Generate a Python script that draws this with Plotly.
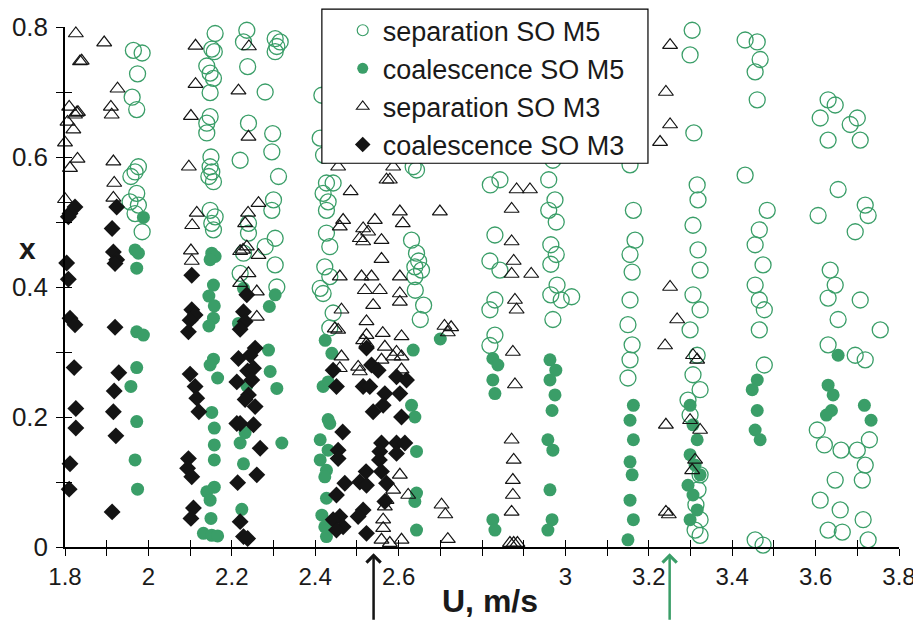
import plotly.graph_objects as go

GREEN = "#3a9e68"
BLACK = "#141414"

# ---------------- data (U in m/s, x dimensionless) ----------------
sep_m5_u = [1.964, 1.985, 1.974, 1.961, 1.972, 1.976, 1.968, 1.958, 1.972, 1.956, 1.976, 1.968, 1.985,
            2.160, 2.152, 2.158, 2.140, 2.148, 2.156, 2.148, 2.148, 2.140, 2.140, 2.150, 2.148, 2.152, 2.145,
            2.156, 2.148, 2.160, 2.152, 2.156, 2.220, 2.236, 2.228, 2.238, 2.240, 2.240, 2.228, 2.220, 2.240,
            2.304, 2.316, 2.308, 2.304, 2.280, 2.298, 2.296, 2.312, 2.300, 2.296, 2.280, 2.304, 2.304, 2.308,
            2.416, 2.412, 2.420, 2.427, 2.443, 2.419, 2.431, 2.427, 2.427, 2.435, 2.423, 2.435, 2.412, 2.419,
            2.443, 2.435,
            2.635, 2.643, 2.631, 2.643, 2.639, 2.639, 2.648, 2.655, 2.640, 2.660, 2.652,
            2.820, 2.843, 2.831, 2.819, 2.843, 2.831, 2.819, 2.831, 2.819,
            2.970, 2.960, 2.975, 2.960, 2.978, 2.965, 2.978, 2.965, 2.980, 2.965, 2.990, 2.970, 3.015,
            3.155, 3.163, 3.167, 3.155, 3.160, 3.155, 3.150, 3.160, 3.155, 3.150,
            3.304, 3.299, 3.308, 3.316, 3.318, 3.306, 3.318, 3.323, 3.306, 3.323, 3.299, 3.316, 3.306, 3.323,
            3.294, 3.299, 3.323, 3.318, 3.313, 3.323, 3.311, 3.323,
            3.431, 3.460, 3.467, 3.455, 3.460, 3.431, 3.484, 3.465, 3.455, 3.474, 3.455, 3.465, 3.477, 3.465,
            3.477, 3.455, 3.474,
            3.630, 3.647, 3.611, 3.683, 3.700, 3.630, 3.707, 3.654, 3.719, 3.726, 3.606, 3.695, 3.635, 3.647,
            3.630, 3.707, 3.654, 3.630, 3.695, 3.719, 3.755, 3.604, 3.621, 3.661, 3.700, 3.729, 3.719, 3.712,
            3.647, 3.611, 3.659, 3.630, 3.664, 3.714, 3.726]
sep_m5_x = [0.764, 0.760, 0.728, 0.692, 0.673, 0.585, 0.577, 0.570, 0.544, 0.531, 0.526, 0.513, 0.485,
            0.790, 0.766, 0.762, 0.740, 0.729, 0.721, 0.699, 0.662, 0.652, 0.637, 0.600, 0.585, 0.577, 0.570,
            0.562, 0.518, 0.508, 0.498, 0.488, 0.595, 0.795, 0.777, 0.739, 0.652, 0.483, 0.452, 0.421, 0.498,
            0.782, 0.777, 0.770, 0.762, 0.700, 0.636, 0.608, 0.570, 0.534, 0.518, 0.462, 0.475, 0.434, 0.400,
            0.695, 0.629, 0.603, 0.560, 0.560, 0.544, 0.531, 0.518, 0.483, 0.462, 0.431, 0.416, 0.398, 0.390,
            0.360, 0.337,
            0.585, 0.580, 0.472, 0.452, 0.431, 0.416, 0.440, 0.426, 0.395, 0.372, 0.350,
            0.557, 0.565, 0.480, 0.440, 0.426, 0.380, 0.365, 0.326, 0.310,
            0.595, 0.565, 0.534, 0.518, 0.500, 0.465, 0.450, 0.435, 0.403, 0.388, 0.380, 0.350, 0.385,
            0.588, 0.518, 0.472, 0.450, 0.423, 0.380, 0.342, 0.311, 0.288, 0.260,
            0.795, 0.757, 0.637, 0.557, 0.534, 0.495, 0.457, 0.426, 0.388, 0.365, 0.334, 0.295, 0.265, 0.242,
            0.226, 0.203, 0.111, 0.088, 0.065, 0.042, 0.026, 0.018,
            0.780, 0.777, 0.750, 0.731, 0.688, 0.572, 0.518, 0.488, 0.465, 0.434, 0.403, 0.380, 0.365, 0.334,
            0.280, 0.011, 0.003,
            0.688, 0.680, 0.660, 0.650, 0.660, 0.626, 0.626, 0.550, 0.526, 0.510, 0.510, 0.485, 0.426, 0.403,
            0.383, 0.380, 0.350, 0.311, 0.295, 0.288, 0.334, 0.180, 0.157, 0.149, 0.149, 0.165, 0.126, 0.103,
            0.103, 0.072, 0.057, 0.026, 0.023, 0.042, 0.011]

coal_m5_u = [1.988, 1.968, 1.976, 1.972, 1.972, 1.988, 1.972, 1.958, 1.972, 1.968, 1.974,
             2.152, 2.160, 2.148, 2.156, 2.145, 2.158, 2.156, 2.145, 2.156, 2.148, 2.166, 2.152, 2.158, 2.158,
             2.158, 2.158, 2.140, 2.148, 2.150, 2.132, 2.152, 2.166,
             2.232, 2.220, 2.228, 2.224, 2.236, 2.228, 2.304, 2.290, 2.216, 2.288, 2.292, 2.308, 2.320,
             2.424, 2.440, 2.419, 2.431, 2.431, 2.435, 2.412, 2.431, 2.412, 2.427, 2.423, 2.427, 2.416, 2.423,
             2.427,
             2.635, 2.700, 2.631, 2.639, 2.643, 2.643, 2.639, 2.643,
             2.826, 2.838, 2.826, 2.831, 2.826, 2.831,
             2.963, 2.977, 2.963, 2.975, 2.968, 2.958, 2.970, 2.963, 2.968, 2.958,
             3.163, 3.155, 3.163, 3.155, 3.160, 3.155, 3.163, 3.150,
             3.299, 3.306, 3.316, 3.299, 3.311, 3.323, 3.294, 3.306, 3.316, 3.299,
             3.460, 3.448, 3.460, 3.455, 3.467,
             3.654, 3.630, 3.642, 3.638, 3.626, 3.717, 3.733]
coal_m5_x = [0.507, 0.457, 0.452, 0.429, 0.331, 0.326, 0.276, 0.247, 0.193, 0.134, 0.089,
             0.452, 0.447, 0.442, 0.403, 0.386, 0.371, 0.352, 0.340, 0.289, 0.280, 0.260, 0.207, 0.183, 0.157,
             0.134, 0.092, 0.085, 0.072, 0.044, 0.021, 0.018, 0.017,
             0.176, 0.160, 0.128, 0.058, 0.248, 0.398, 0.388, 0.370, 0.344, 0.303, 0.270, 0.244, 0.160,
             0.318, 0.298, 0.247, 0.254, 0.196, 0.190, 0.165, 0.149, 0.134, 0.118, 0.108, 0.075, 0.049, 0.031,
             0.016,
             0.303, 0.320, 0.218, 0.200, 0.147, 0.083, 0.070, 0.026,
             0.290, 0.280, 0.257, 0.236, 0.042, 0.026,
             0.288, 0.272, 0.257, 0.234, 0.210, 0.165, 0.149, 0.088, 0.042, 0.026,
             0.218, 0.195, 0.165, 0.131, 0.111, 0.072, 0.042, 0.011,
             0.218, 0.188, 0.165, 0.142, 0.126, 0.111, 0.095, 0.080, 0.057, 0.042,
             0.257, 0.242, 0.210, 0.180, 0.165,
             0.295, 0.249, 0.234, 0.210, 0.203, 0.218, 0.195]

sep_m3_u = [1.826, 1.836, 1.840, 1.810, 1.828, 1.831, 1.824, 1.806, 1.820, 1.800, 1.830, 1.812, 1.800,
            1.894, 1.926, 1.910, 1.912, 1.916, 1.918, 1.916,
            2.113, 2.113, 2.102, 2.097, 2.116, 2.105, 2.102, 2.104,
            2.216, 2.241, 2.240, 2.239, 2.232, 2.227, 2.236, 2.220, 2.264, 2.220, 2.264, 2.240, 2.260, 2.260,
            2.455, 2.587, 2.571, 2.579, 2.485, 2.467, 2.459, 2.603, 2.610, 2.543, 2.515, 2.527, 2.507, 2.515,
            2.559, 2.559, 2.459, 2.511, 2.535, 2.603, 2.519, 2.555, 2.603, 2.603, 2.539, 2.463, 2.523, 2.447,
            2.455, 2.523, 2.562, 2.607, 2.567, 2.523, 2.515, 2.587, 2.607, 2.595, 2.559, 2.463, 2.459, 2.503,
            2.507, 2.607, 2.603, 2.587, 2.623, 2.571, 2.567, 2.563, 2.563, 2.559, 2.579, 2.607,
            2.699, 2.710, 2.718, 2.726, 2.703, 2.712, 2.718,
            2.883, 2.871, 2.871, 2.876, 2.871, 2.879, 2.883, 2.874, 2.879, 2.871, 2.876, 2.874, 2.874, 2.871,
            2.867, 2.876, 2.885, 2.915, 2.918,
            3.251, 3.241, 3.251, 3.227, 3.251, 3.268, 3.239, 3.241, 3.241, 3.248,
            3.306, 3.316, 3.299, 3.323, 3.311, 3.304]
sep_m3_x = [0.790, 0.747, 0.748, 0.677, 0.668, 0.669, 0.665, 0.654, 0.642, 0.622, 0.597, 0.583, 0.535,
            0.776, 0.705, 0.677, 0.665, 0.593, 0.560, 0.537,
            0.771, 0.712, 0.663, 0.585, 0.514, 0.495, 0.456, 0.440,
            0.702, 0.770, 0.631, 0.514, 0.498, 0.457, 0.462, 0.406, 0.529, 0.455, 0.449, 0.421, 0.393, 0.354,
            0.585, 0.585, 0.565, 0.565, 0.547, 0.503, 0.493, 0.516, 0.498, 0.503, 0.490, 0.485, 0.475, 0.470,
            0.472, 0.443, 0.416, 0.416, 0.416, 0.416, 0.395, 0.395, 0.390, 0.377, 0.372, 0.365, 0.347, 0.336,
            0.334, 0.326, 0.329, 0.324, 0.308, 0.313, 0.318, 0.293, 0.293, 0.300, 0.288, 0.293, 0.275, 0.277,
            0.270, 0.273, 0.111, 0.088, 0.080, 0.072, 0.062, 0.042, 0.029, 0.011, 0.006, 0.011,
            0.516, 0.340, 0.330, 0.338, 0.065, 0.050, 0.012,
            0.550, 0.520, 0.470, 0.440, 0.420, 0.380, 0.365, 0.300, 0.250, 0.165, 0.134, 0.103, 0.080, 0.054,
            0.006, 0.006, 0.006, 0.550, 0.420,
            0.772, 0.700, 0.650, 0.623, 0.400, 0.350, 0.310, 0.188, 0.054, 0.050,
            0.295, 0.288, 0.195, 0.180, 0.134, 0.118]

coal_m3_u = [1.824, 1.812, 1.808, 1.804, 1.808, 1.812, 1.824, 1.822, 1.826, 1.826, 1.812, 1.810,
             1.924, 1.913, 1.916, 1.924, 1.920, 1.920, 1.929, 1.918, 1.916, 1.922, 1.913,
             2.104, 2.104, 2.112, 2.100, 2.096, 2.100, 2.112, 2.116, 2.121, 2.096, 2.094, 2.104, 2.108, 2.102,
             2.236, 2.228, 2.232, 2.220, 2.216, 2.238, 2.212, 2.240, 2.232, 2.212, 2.220, 2.214, 2.220, 2.228,
             2.238, 2.256, 2.244, 2.252, 2.248, 2.256, 2.252, 2.268, 2.260,
             2.443, 2.451, 2.523, 2.535, 2.551, 2.515, 2.531, 2.567, 2.563, 2.539, 2.595, 2.619, 2.603, 2.607,
             2.466, 2.455, 2.455, 2.559, 2.555, 2.554, 2.595, 2.615, 2.595, 2.522, 2.507, 2.523, 2.471, 2.451,
             2.559, 2.571, 2.515, 2.503, 2.459, 2.467, 2.443, 2.451, 2.523, 2.567]
coal_m3_x = [0.523, 0.513, 0.508, 0.437, 0.412, 0.352, 0.342, 0.276, 0.213, 0.183, 0.128, 0.089,
             0.523, 0.490, 0.454, 0.442, 0.436, 0.338, 0.268, 0.240, 0.208, 0.171, 0.054,
             0.418, 0.365, 0.357, 0.349, 0.331, 0.266, 0.247, 0.229, 0.208, 0.136, 0.121, 0.108, 0.060, 0.044,
             0.388, 0.362, 0.347, 0.335, 0.290, 0.271, 0.254, 0.234, 0.227, 0.190, 0.190, 0.099, 0.039, 0.016,
             0.013, 0.306, 0.295, 0.275, 0.257, 0.216, 0.188, 0.152, 0.111,
             0.272, 0.247, 0.306, 0.280, 0.272, 0.247, 0.247, 0.236, 0.218, 0.208, 0.262, 0.257, 0.236, 0.200,
             0.177, 0.149, 0.136, 0.160, 0.147, 0.134, 0.160, 0.160, 0.144, 0.116, 0.100, 0.095, 0.098, 0.080,
             0.116, 0.098, 0.057, 0.047, 0.047, 0.031, 0.042, 0.026, 0.021, 0.070]

series_names = ["separation SO M5", "coalescence SO M5", "separation SO M3", "coalescence SO M3"]
x_tick_vals = [1.8, 1.9, 2.0, 2.1, 2.2, 2.3, 2.4, 2.5, 2.6, 2.7, 2.8, 2.9, 3.0, 3.1, 3.2, 3.3, 3.4, 3.5, 3.6, 3.7, 3.8]
x_tick_text = ["1.8", "", "2", "", "2.2", "", "2.4", "", "2.6", "", "", "", "3", "", "3.2", "", "3.4", "", "3.6", "", "3.8"]
y_tick_vals = [0, 0.1, 0.2, 0.3, 0.4, 0.5, 0.6, 0.7, 0.8]
y_tick_text = ["0", "", "0.2", "", "0.4", "", "0.6", "", "0.8"]
arrow_u = [2.54, 3.25]

# ---------------- figure ----------------
styles = [
    dict(symbol="circle-open", size=16, color=GREEN, line=dict(width=1.3, color=GREEN)),
    dict(symbol="circle", size=13, color=GREEN, line=dict(width=0)),
    dict(symbol="triangle-up-open", size=13, color=BLACK, line=dict(width=1.2, color=BLACK)),
    dict(symbol="diamond", size=13, color=BLACK, line=dict(width=0)),
]
legend_styles = [
    dict(symbol="circle-open", size=11, color=GREEN, line=dict(width=1.2, color=GREEN)),
    dict(symbol="circle", size=11, color=GREEN),
    dict(symbol="triangle-up-open", size=11, color=BLACK, line=dict(width=1.1, color=BLACK)),
    dict(symbol="diamond", size=12, color=BLACK),
]
data_u = [sep_m5_u, coal_m5_u, sep_m3_u, coal_m3_u]
data_x = [sep_m5_x, coal_m5_x, sep_m3_x, coal_m3_x]

fig = go.Figure()
for name, u, x, st in zip(series_names, data_u, data_x, styles):
    fig.add_trace(go.Scatter(x=u, y=x, mode="markers", marker=st, name=name,
                             showlegend=False, cliponaxis=False))
for name, st in zip(series_names, legend_styles):
    fig.add_trace(go.Scatter(x=[None], y=[None], mode="markers", marker=st, name=name))

# invisible trace so the inner half of the crossing ticks is drawn
fig.add_trace(go.Scatter(x=[1.8], y=[0], xaxis="x2", yaxis="y2", mode="markers",
                         marker=dict(opacity=0), showlegend=False, hoverinfo="skip"))

axis_common = dict(showgrid=False, zeroline=False, showline=True, linecolor="black", linewidth=1.5,
                   ticks="outside", ticklen=7, tickwidth=1.3, tickcolor="black")

# the page body adds an 8 px offset, so the figure is 8 px smaller than the window
fig.update_layout(
    width=913, height=629,
    margin=dict(l=57, r=22, t=19, b=90, autoexpand=False),
    paper_bgcolor="white", plot_bgcolor="white",
    font=dict(family="Liberation Sans, Arial, sans-serif", color="#1a1a1a"),
    xaxis=dict(range=[1.8, 3.8], tickvals=x_tick_vals, ticktext=x_tick_text,
               tickfont=dict(size=24), **axis_common),
    yaxis=dict(range=[0, 0.8], tickvals=y_tick_vals, ticktext=y_tick_text,
               tickfont=dict(size=26), ticklabelstandoff=3, **axis_common),
    xaxis2=dict(range=[1.8, 3.8], overlaying="x", anchor="y2", side="bottom", tickvals=x_tick_vals,
                showticklabels=False, showgrid=False, zeroline=False, showline=False,
                ticks="inside", ticklen=7, tickwidth=1.3, tickcolor="black"),
    yaxis2=dict(range=[0, 0.8], overlaying="y", anchor="x2", side="left", tickvals=y_tick_vals,
                showticklabels=False, showgrid=False, zeroline=False, showline=False,
                ticks="inside", ticklen=7, tickwidth=1.3, tickcolor="black"),
    legend=dict(x=0.333, y=1.04, xanchor="left", yanchor="top",
                bgcolor="rgba(0,0,0,0)", borderwidth=0,
                font=dict(size=27, color="#1a1a1a")),
    showlegend=True,
)

# legend frame (drawn above the markers, below the legend entries)
fig.add_shape(type="rect", xref="paper", yref="paper", x0=0.308, x1=0.699, y0=0.738, y1=1.0345,
              fillcolor="white", line=dict(color="black", width=1.2), layer="above")

fig.add_annotation(x=0.51, y=-0.103, xref="paper", yref="paper", text="<b>U, m/s</b>",
                   showarrow=False, font=dict(size=32, color="#1a1a1a"), xanchor="center", yanchor="middle")
fig.add_annotation(x=-0.045, y=0.575, xref="paper", yref="paper", text="<b>x</b>",
                   showarrow=False, font=dict(size=30, color="#1a1a1a"), xanchor="center", yanchor="middle")

for u, c in zip(arrow_u, [BLACK, GREEN]):
    fig.add_annotation(x=u, y=-0.012, xref="x", yref="paper", ax=0, ay=68, axref="pixel", ayref="pixel",
                       text="", showarrow=True, arrowhead=4, arrowsize=1.1, arrowwidth=2.5, arrowcolor=c,
                       standoff=0)

fig.write_html("out.html")
